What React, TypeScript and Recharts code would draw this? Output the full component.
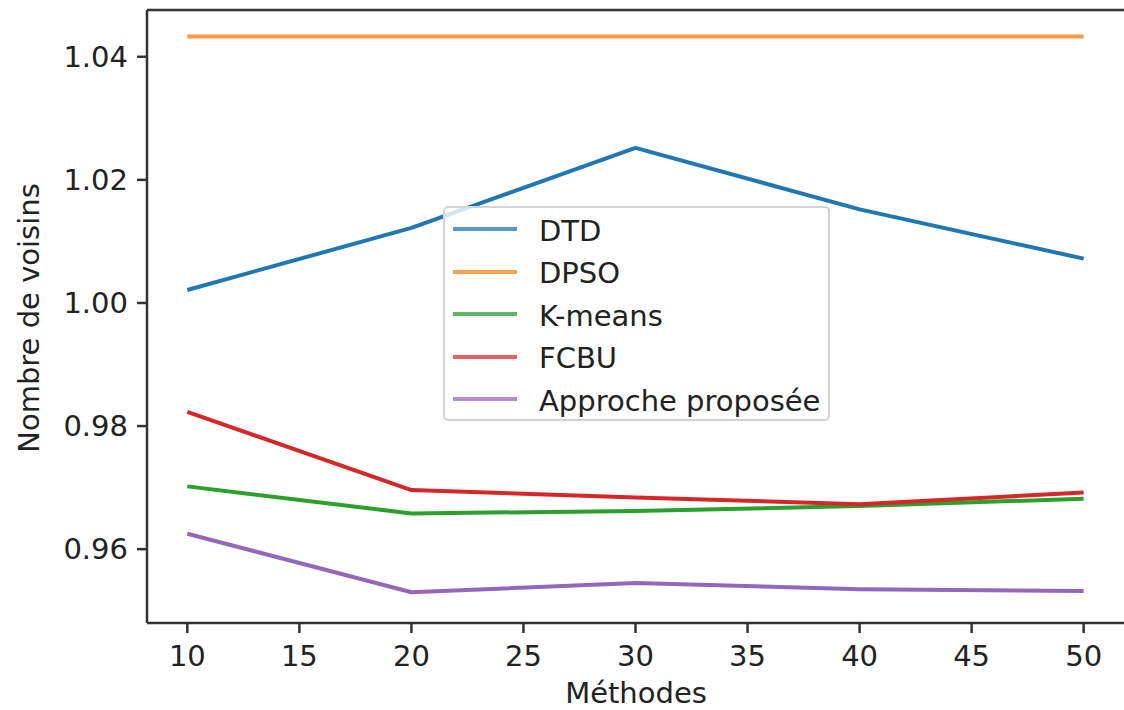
import React from "react";
import { LineChart, Line, XAxis, YAxis, Legend, ReferenceLine } from "recharts";

// values
const xValues = [10, 20, 30, 40, 50];
const dtd = [1.0021, 1.0122, 1.0252, 1.0152, 1.0072];
const dpso = [1.0433, 1.0433, 1.0433, 1.0433, 1.0433];
const kmeans = [0.9702, 0.9658, 0.9662, 0.967, 0.9682];
const fcbu = [0.9823, 0.9696, 0.9684, 0.9673, 0.9692];
const proposee = [0.9625, 0.953, 0.9545, 0.9535, 0.9532];

const xTicks = [10, 15, 20, 25, 30, 35, 40, 45, 50];
const yTicks = [0.96, 0.98, 1.0, 1.02, 1.04];
const xDomain = [8.2, 51.8];
const yDomain = [0.948, 1.0476];

const series = [
  { key: "dtd", name: "DTD", color: "#1f77b4", legend: "#5799c9" },
  { key: "dpso", name: "DPSO", color: "#ff9a45", legend: "#ffa04f" },
  { key: "kmeans", name: "K-means", color: "#2ca02c", legend: "#5cb85c" },
  { key: "fcbu", name: "FCBU", color: "#d62728", legend: "#e36064" },
  { key: "proposee", name: "Approche proposée", color: "#9467bd", legend: "#ad8fd2" },
];

const data = xValues.map((x, i) => ({
  x,
  dtd: dtd[i],
  dpso: dpso[i],
  kmeans: kmeans[i],
  fcbu: fcbu[i],
  proposee: proposee[i],
}));

const font = "'DejaVu Sans', sans-serif";
const axisColor = "#333";
const tickStyle = { fontSize: 29, fill: "#222", fontFamily: font };

// legend keeps the plotting order (recharts would sort it by name)
function LegendBox() {
  return (
    <div
      style={{
        width: 383,
        height: 211,
        border: "2px solid #d3d3d3",
        borderRadius: 5,
        background: "rgba(255,255,255,0.8)",
        fontFamily: font,
        fontSize: 29,
        color: "#222",
        paddingTop: 0,
        boxSizing: "content-box",
      }}
    >
      {series.map((s) => (
        <div
          key={s.key}
          style={{ display: "flex", alignItems: "center", height: 42.5 }}
        >
          <div
            style={{
              width: 64,
              height: 4,
              marginLeft: 8,
              background: s.legend,
            }}
          />
          <span style={{ marginLeft: 22, lineHeight: "29px", marginTop: 4 }}>{s.name}</span>
        </div>
      ))}
    </div>
  );
}

export default function App() {
  return (
    <div style={{ position: "absolute", left: 0, top: 0, width: 1124, height: 710, background: "#fff" }}>
      <LineChart
        width={1124}
        height={710}
        data={data}
        margin={{ top: 10, right: 0, bottom: 0, left: 0 }}
      >
        <XAxis
          dataKey="x"
          type="number"
          domain={xDomain}
          ticks={xTicks}
          height={87}
          tickSize={10}
          tickMargin={12}
          stroke={axisColor}
          strokeWidth={2.5}
          tick={tickStyle}
          interval={0}
        />
        <YAxis
          type="number"
          domain={yDomain}
          ticks={yTicks}
          width={147}
          tickSize={10}
          tickMargin={9}
          stroke={axisColor}
          strokeWidth={2.5}
          tick={tickStyle}
          tickFormatter={(v: number) => v.toFixed(2)}
          allowDataOverflow
          interval={0}
        />
        <ReferenceLine y={yDomain[1]} stroke={axisColor} strokeWidth={2.5} ifOverflow="visible" />
        <Legend
          layout="vertical"
          align="center"
          verticalAlign="middle"
          content={<LegendBox />}
          wrapperStyle={{ left: 443, top: 206, width: 387, height: 215 }}
        />
        {series.map((s) => (
          <Line
            key={s.key}
            dataKey={s.key}
            name={s.name}
            stroke={s.color}
            strokeWidth={4}
            dot={false}
            activeDot={false}
            type="linear"
            strokeLinejoin="round"
            isAnimationActive={false}
          />
        ))}
      </LineChart>
      <svg
        width={1124}
        height={710}
        style={{ position: "absolute", left: 0, top: 0, pointerEvents: "none" }}
      >
        <text x={636} y={703} textAnchor="middle" fontSize={29} fontFamily={font} fill="#222">
          Méthodes
        </text>
        <text
          x={0}
          y={0}
          transform="translate(39, 318) rotate(-90)"
          textAnchor="middle"
          fontSize={29}
          fontFamily={font}
          fill="#222"
        >
          Nombre de voisins
        </text>
      </svg>
    </div>
  );
}
